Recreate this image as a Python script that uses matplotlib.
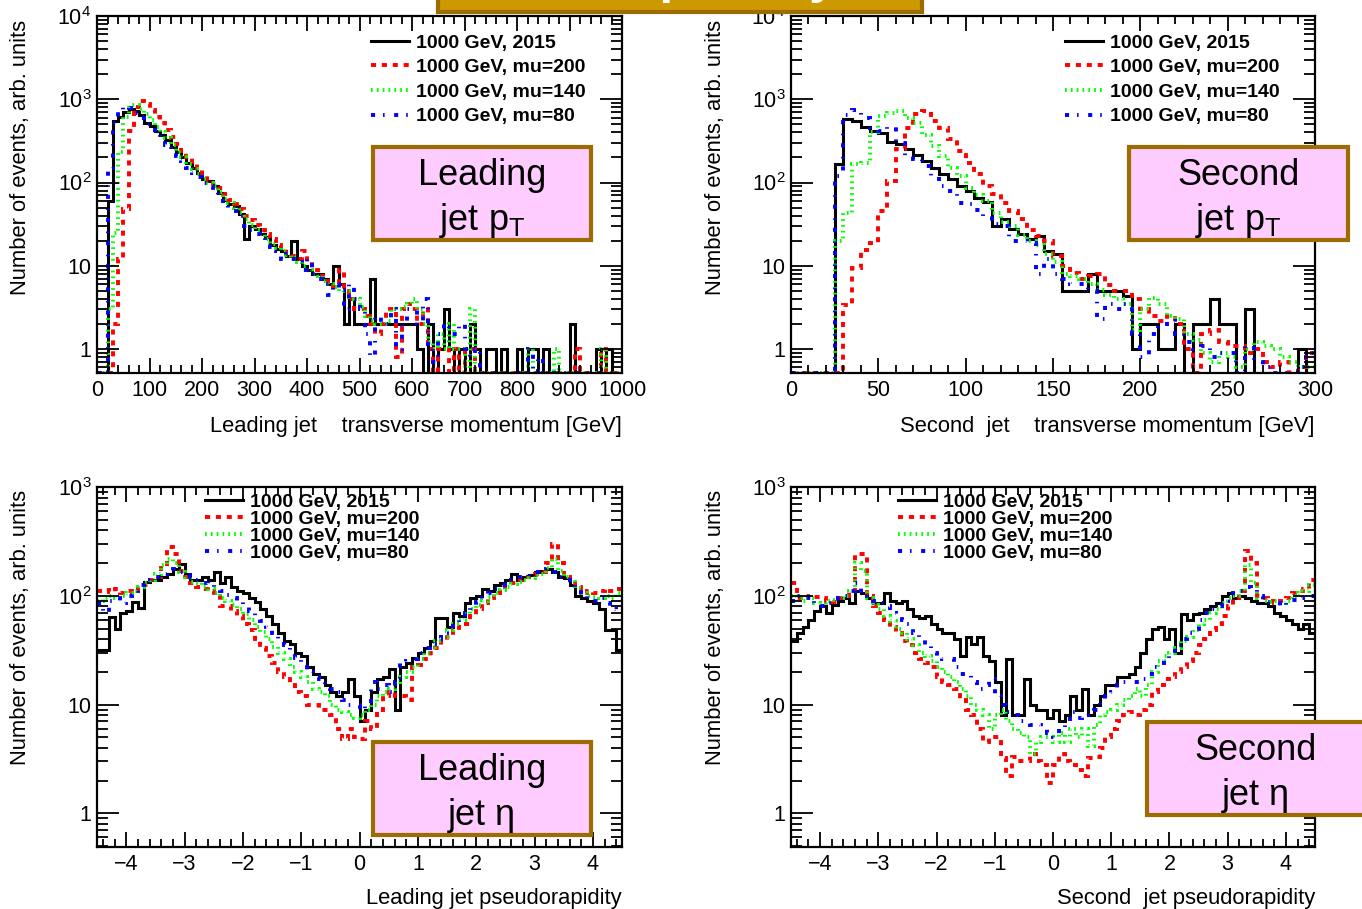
import numpy as np
import matplotlib
matplotlib.use("Agg")
import matplotlib.pyplot as plt
from matplotlib.patches import Rectangle
from matplotlib.lines import Line2D
from matplotlib.ticker import MultipleLocator, LogLocator, NullFormatter

plt.rcParams['font.family'] = ['Liberation Sans', 'DejaVu Sans']
plt.rcParams['mathtext.fontset'] = 'custom'
plt.rcParams['mathtext.rm'] = 'Liberation Sans'
plt.rcParams['mathtext.it'] = 'Liberation Sans:italic'
plt.rcParams['mathtext.bf'] = 'Liberation Sans:bold'

# ---------------- data ----------------
labels = ["1000 GeV, 2015", "1000 GeV, mu=200", "1000 GeV, mu=140", "1000 GeV, mu=80"]

# Leading jet pT, 10 GeV bins from 0 to 1000
pt1_edges = np.linspace(0, 1000, 101)
pt1_2015 = [0, 0, 60, 550, 620, 700, 760, 720, 640, 520,
            480, 420, 370, 320, 270, 230, 200, 170, 150, 130,
            110, 105, 90, 75, 62, 55, 52, 42, 21, 30,
            28, 24, 22, 18, 16, 15, 13, 20, 12, 10,
            9, 8, 8, 7, 6, 10, 6, 2, 4, 2,
            2, 2, 7, 2, 2, 2, 2, 2, 2, 2,
            2, 1, 0, 2, 0, 1, 3, 1, 0, 1,
            0, 2, 1, 0, 1, 1, 0, 1, 0, 0,
            1, 0, 1, 1, 0, 1, 0, 0, 0, 0,
            2, 0, 0, 0, 0, 1, 0, 1, 0, 0]
pt1_mu200 = [0, 0, 0, 2, 12, 48, 420, 800, 950, 880,
             750, 620, 520, 430, 350, 290, 240, 200, 165, 140,
             120, 108, 95, 85, 72, 62, 55, 48, 40, 35,
             31, 27, 24, 21, 18, 16, 14, 13, 12, 15,
             11, 9, 7.5, 6.5, 6, 5.5, 9, 5, 4, 3,
             3, 2.5, 2, 1.5, 2, 3, 3, 0.8, 3, 3.5,
             3, 2, 3, 1, 0, 1, 1, 0, 1, 0,
             1, 1, 0, 0, 0, 0, 0, 0, 0, 0,
             0, 0, 0, 0, 0, 0, 0, 0, 0, 0,
             0, 1, 0, 0, 0, 0, 1, 0, 0, 0]
pt1_mu140 = [0, 0, 3, 25, 230, 620, 850, 860, 760, 660,
             560, 470, 400, 340, 285, 235, 200, 168, 145, 125,
             110, 100, 90, 76, 63, 56, 49, 43, 36, 31,
             27, 24, 21, 18.5, 16.5, 15, 13.5, 12.5, 11, 10,
             9, 8, 7.5, 6.5, 6, 5.5, 5, 5, 4.2, 4,
             3.2, 2.5, 2.2, 2, 2, 2.2, 3, 3, 3.2, 3.5,
             4, 3, 2, 1.2, 1, 1.5, 1, 2, 1, 1,
             0, 3, 0, 0, 0, 0, 0, 0, 0, 0,
             0, 0, 1, 0, 0, 0, 0, 1, 0, 0,
             0, 0, 0, 0, 0, 0, 1, 0, 0, 0]
pt1_mu80 = [0, 0, 150, 520, 700, 820, 780, 680, 600, 500,
            430, 380, 330, 280, 240, 210, 180, 150, 130, 115,
            100, 90, 80, 70, 55, 50, 45, 40, 30, 27,
            24, 22, 19, 17, 15, 12, 14, 12, 11, 9,
            12, 8, 7, 6, 4.5, 6, 5, 3, 6, 4,
            3, 1.5, 0.8, 2.5, 2, 2, 3, 1, 2, 3,
            3, 2, 4, 1, 0.7, 1.5, 2, 1.5, 1.5, 2,
            1, 0.8, 1, 0, 0, 0, 0, 0, 0, 0,
            0, 0, 1, 0, 0.8, 0, 0, 0, 0, 0,
            0, 0, 0, 0, 0, 0, 0, 0, 0, 0]

# Second jet pT, 5 GeV bins from 0 to 300
pt2_edges = np.linspace(0, 300, 61)
pt2_2015 = [0, 0, 0, 0, 0, 165, 580, 550, 470, 420,
            390, 310, 290, 250, 215, 180, 150, 128, 110, 92,
            78, 65, 58, 30, 36, 28, 24, 21, 23, 15,
            14, 5, 5, 5, 8, 5, 5, 5, 4.3, 1,
            2, 2, 1, 1, 2, 0, 2, 2, 4, 2,
            2, 0, 3, 0, 0, 0, 0, 0, 1, 0]
pt2_mu200 = [0, 0, 0, 0, 0, 0, 3.4, 9.4, 15.5, 18.8,
             45, 104, 250, 455, 660, 720, 550, 450, 330, 240,
             172, 125, 92, 72, 57, 46, 36, 27, 22.5, 20,
             13, 9.8, 8.1, 7, 7.5, 8, 5.9, 5, 5, 4,
             3, 2.5, 2.2, 2.5, 2, 1, 0, 1.5, 1.7, 1.2,
             1.1, 1.1, 0.9, 1.0, 0.7, 0.6, 0.7, 0.5, 0.6, 0.9]
pt2_mu140 = [0, 0, 0, 0, 0, 20, 43, 165, 170, 400,
             630, 680, 720, 600, 525, 375, 273, 208, 150, 120,
             86, 70, 60, 43, 34, 30, 23.6, 20, 18, 14,
             11, 8, 7.5, 7, 6, 5.1, 4.5, 4, 3.5, 1.7,
             3, 4.1, 3.5, 2.5, 2.3, 1.5, 1.3, 0.9, 0.7, 0.9,
             0.8, 0.6, 1.0, 1.2, 1.1, 1.0, 0.8, 0.7, 0.6, 0.6]
pt2_mu80 = [0, 0, 0, 0, 0, 120, 650, 750, 600, 450,
            420, 460, 300, 210, 190, 160, 120, 92, 80, 57,
            55, 47, 40, 32, 30, 20, 20, 19, 8, 12,
            8, 7, 6, 6, 5, 2.3, 3.5, 3, 3.5, 1.5,
            0.8, 1.5, 1.8, 2.2, 1.5, 1.2, 1.0, 1.1, 0.8, 0.9,
            0.9, 0.5, 1.1, 0.7, 0.6, 0.5, 0.5, 0.5, 0.6, 0.9]

# Leading jet eta, 0.1 bins from -4.5 to 4.5
eta_edges = np.linspace(-4.5, 4.5, 91)
eta1_2015 = [32, 32, 64, 50, 70, 72, 88, 78, 135, 140,
             140, 150, 160, 175, 195, 160, 140, 140, 150, 140,
             165, 130, 150, 120, 110, 105, 95, 88, 75, 65,
             55, 45, 38, 36, 30, 28, 22, 19, 18, 15,
             13, 12, 13, 17, 12, 7, 9, 13, 17, 18,
             21, 9, 22, 24, 27, 30, 33, 38, 62, 62,
             52, 70, 65, 85, 95, 100, 115, 110, 125, 130,
             140, 160, 140, 150, 155, 165, 170, 175, 165, 150,
             145, 125, 100, 95, 90, 85, 75, 48, 48, 32]
eta1_mu200 = [110, 112, 108, 115, 105, 110, 108, 118, 125, 140,
              150, 180, 280, 240, 170, 150, 130, 120, 115, 110,
              100, 80, 80, 72, 65, 55, 48, 40, 33, 28,
              24, 20, 18, 15, 13, 12, 10, 10, 9, 9,
              8, 6, 4.8, 6, 5, 4.8, 7, 6, 9, 12,
              13, 12, 12, 11, 22, 23, 26, 30, 33, 38,
              42, 48, 55, 55, 65, 75, 85, 95, 105, 115,
              125, 130, 140, 150, 155, 160, 165, 200, 300, 200,
              150, 140, 120, 105, 110, 105, 110, 115, 110, 115]
eta1_mu140 = [90, 95, 100, 95, 100, 105, 110, 120, 130, 140,
              160, 190, 220, 200, 165, 150, 135, 130, 120, 115,
              105, 95, 90, 82, 75, 68, 60, 52, 46, 40,
              34, 30, 26, 22, 20, 18, 16, 14, 13, 12,
              10, 9, 8.5, 8, 7.5, 8, 9, 10, 12, 13,
              14, 16, 18, 20, 22, 26, 30, 34, 38, 42,
              48, 55, 60, 68, 75, 82, 90, 98, 105, 112,
              120, 128, 135, 140, 145, 155, 160, 180, 220, 170,
              150, 135, 118, 105, 100, 98, 95, 100, 95, 105]
eta1_mu80 = [85, 70, 90, 95, 85, 100, 110, 125, 130, 140,
             150, 160, 170, 175, 165, 155, 150, 140, 130, 125,
             118, 110, 102, 95, 88, 80, 72, 65, 58, 52,
             45, 40, 35, 30, 27, 23, 20, 18, 17, 15,
             14, 13, 11, 10, 10, 9, 10, 16, 14, 15,
             13, 16, 24, 25, 26, 30, 33, 36, 40, 45,
             50, 56, 62, 70, 80, 88, 95, 105, 115, 125,
             135, 140, 150, 150, 160, 165, 170, 175, 165, 150,
             140, 130, 115, 100, 95, 90, 95, 85, 75, 72]

# Second jet eta, 0.1 bins from -4.5 to 4.5
eta2_2015 = [38, 45, 52, 60, 72, 80, 70, 82, 90, 95,
             85, 110, 105, 95, 85, 85, 105, 90, 85, 90,
             75, 65, 62, 65, 55, 50, 45, 45, 40, 28,
             42, 36, 42, 28, 25, 16, 8, 26, 8, 8,
             17, 10, 9, 9, 7.5, 9, 7, 8, 12, 9,
             14, 8, 10, 12, 15, 15, 18, 18, 19, 22,
             30, 40, 50, 52, 40, 50, 30, 68, 60, 68,
             70, 75, 80, 85, 100, 105, 95, 100, 95, 90,
             85, 85, 80, 70, 65, 60, 55, 50, 55, 45]
eta2_mu200 = [130, 95, 100, 95, 98, 95, 90, 88, 95, 100,
              110, 240, 240, 100, 80, 70, 60, 52, 45, 38,
              35, 30, 26, 24, 22, 18, 16, 15, 14, 11,
              9, 8, 6, 4.5, 5, 5, 3.2, 2.2, 3.3, 3.0,
              3.0, 3.5, 3.0, 2.8, 1.9, 2.8, 3.5, 3.0, 2.8, 2.5,
              2.2, 3.2, 3.3, 4.0, 5.0, 6.0, 7.0, 8.0, 8.5, 8.0,
              9.0, 10, 13, 15, 17, 18, 20, 22, 25, 30,
              35, 40, 48, 55, 65, 80, 95, 110, 260, 200,
              100, 95, 90, 85, 90, 95, 105, 110, 115, 140]
eta2_mu140 = [100, 95, 90, 95, 85, 80, 90, 92, 95, 100,
              110, 200, 170, 95, 82, 75, 65, 58, 50, 45,
              40, 35, 30, 28, 25, 22, 20, 18, 16, 14,
              12, 10, 9, 8, 6, 8, 9, 7, 6, 5.5,
              5, 3.5, 4.5, 5, 5, 4.5, 5.5, 4.5, 6, 5,
              6, 4.2, 6.5, 8, 8.5, 9, 10, 11, 12, 14,
              12, 15, 20, 25, 28, 30, 33, 38, 42, 48,
              55, 60, 70, 75, 85, 95, 100, 110, 190, 130,
              95, 90, 88, 90, 85, 90, 100, 105, 110, 125]
eta2_mu80 = [90, 100, 95, 98, 85, 80, 85, 90, 95, 100,
             110, 130, 110, 100, 90, 85, 80, 70, 65, 60,
             55, 45, 40, 35, 30, 28, 26, 26, 22, 19,
             19, 16, 14, 15, 17, 12, 10, 8.5, 8, 7,
             7, 6.5, 6.5, 6, 5.5, 5, 6, 7, 8.5, 7.5,
             8, 8.5, 9, 11, 12, 13, 15, 16, 16, 16,
             17, 19, 22, 24, 26, 30, 35, 40, 45, 50,
             60, 70, 75, 80, 90, 100, 105, 110, 120, 115,
             100, 90, 88, 85, 80, 88, 92, 95, 100, 100]

# ---------------- styles ----------------
series_colors = ['#000000', '#ff0000', '#00ff00', '#0000ff']
series_styles = ['-', (0, (1.3, 1.5)), (0, (0.45, 1.05)), (0, (1.05, 2.05, 0.4, 2.45))]
series_lw = [2.2, 2.8, 2.8, 2.8]

W, H = 1362, 909
fig = plt.figure(figsize=(W / 100, H / 100), dpi=100)


def fx(px):
    return px / W


def fy(py):
    return 1 - py / H


def make_axes(l, r, t, b):
    return fig.add_axes([fx(l), fy(b), (r - l) / W, (b - t) / H])


def draw_panel(ax, edges, series, xlim, ylim, xmaj, xmin, yticks, xlabel, leg_anchor,
               leg_spacing, ylab_y, xlab_off):
    ylo = ylim[0]
    for vals, c, ls, lw in zip(series, series_colors, series_styles, series_lw):
        v = np.maximum(np.asarray(vals, dtype=float), ylo * 1.001)
        ax.stairs(v, edges, baseline=None, color=c, linestyle=ls, linewidth=lw)
    ax.set_yscale('log')
    ax.set_xlim(*xlim)
    ax.set_ylim(*ylim)
    ax.xaxis.set_major_locator(MultipleLocator(xmaj))
    ax.xaxis.set_minor_locator(MultipleLocator(xmin))
    ytl = []
    for t in yticks:
        if t == 1:
            ytl.append('1')
        elif t == 10:
            ytl.append('10')
        else:
            ytl.append(r'$\mathregular{10^{%d}}$' % int(round(np.log10(t))))
    ax.set_yticks(yticks, labels=ytl)
    ax.yaxis.set_minor_locator(LogLocator(base=10, subs=np.arange(2, 10)))
    ax.yaxis.set_minor_formatter(NullFormatter())
    ax.tick_params(axis='both', which='both', direction='in', top=True, right=True,
                   labelsize=15.5, width=1.3, colors='black')
    ax.tick_params(axis='y', which='major', length=16, pad=4)
    ax.tick_params(axis='y', which='minor', length=8)
    ax.tick_params(axis='x', which='major', length=11, pad=5)
    ax.tick_params(axis='x', which='minor', length=5.5)
    for s in ax.spines.values():
        s.set_linewidth(1.6)
    ax.set_xlabel(xlabel, loc='right', fontsize=15.8)
    ax.xaxis.set_label_coords(1.0, -xlab_off / (ax.get_position().height * H))
    ax.set_ylabel("Number of events, arb. units", fontsize=15.8)
    lab = ax.yaxis.label
    lab.set_rotation_mode('default')
    lab.set_ha('center')
    lab.set_va('top')
    ax.yaxis.set_label_coords(-76 / (ax.get_position().width * W), ylab_y)
    handles = [Line2D([], [], color=c, linestyle=ls, linewidth=lw)
               for c, ls, lw in zip(series_colors, series_styles, series_lw)]
    ax.legend(handles, labels, loc='upper left', bbox_to_anchor=leg_anchor, frameon=False,
              prop=dict(family='Liberation Sans', weight='bold', size=14),
              handlelength=1.95, handletextpad=0.36, labelspacing=leg_spacing,
              borderpad=0, borderaxespad=0)


ax1 = make_axes(97, 622, 16, 373)
draw_panel(ax1, pt1_edges, [pt1_2015, pt1_mu200, pt1_mu140, pt1_mu80], (0, 1000), (0.515, 1e4),
           100, 20, [1, 10, 100, 1000, 10000], "Leading jet    transverse momentum [GeV]",
           ((371 - 97) / 525, (373 - 34) / 357), 0.36, 0.989, 43)

ax2 = make_axes(791, 1315, 16, 373)
draw_panel(ax2, pt2_edges, [pt2_2015, pt2_mu200, pt2_mu140, pt2_mu80], (0, 300), (0.515, 1e4),
           50, 10, [1, 10, 100, 1000, 10000], "Second  jet    transverse momentum [GeV]",
           ((1065 - 791) / 524, (373 - 34) / 357), 0.36, 0.989, 43)

ax3 = make_axes(97, 622, 487, 847)
draw_panel(ax3, eta_edges, [eta1_2015, eta1_mu200, eta1_mu140, eta1_mu80], (-4.5, 4.5), (0.49, 1000),
           1, 0.2, [1, 10, 100, 1000], "Leading jet pseudorapidity",
           ((205 - 97) / 525, (847 - 493) / 360), -0.02, 0.992, 41)

ax4 = make_axes(791, 1315, 487, 847)
draw_panel(ax4, eta_edges, [eta2_2015, eta2_mu200, eta2_mu140, eta2_mu80], (-4.5, 4.5), (0.49, 1000),
           1, 0.2, [1, 10, 100, 1000], "Second  jet pseudorapidity",
           ((898 - 791) / 524, (847 - 493) / 360), -0.02, 0.992, 41)


# ---------------- slide overlays ----------------
def slide_box(l, t, r, b, line1, line2):
    rect = Rectangle((fx(l + 2), fy(b - 2)), (r - l - 4) / W, (b - t - 4) / H,
                     transform=fig.transFigure, facecolor='#ffccff', edgecolor='#9c6c00',
                     linewidth=3, zorder=10)
    fig.add_artist(rect)
    cx = (l + r) / 2
    fig.text(fx(cx), fy(t + 40), line1, ha='center', va='baseline', fontsize=26, zorder=11)
    fig.text(fx(cx), fy(t + 85), line2, ha='center', va='baseline', fontsize=26, zorder=11)


slide_box(371, 145, 593, 242, "Leading", r"jet p$_{\mathregular{T}}$")
slide_box(1127, 145, 1350, 242, "Second", r"jet p$_{\mathregular{T}}$")
slide_box(371, 740, 593, 837, "Leading", "jet η")
slide_box(1145, 720, 1367, 817, "Second", "jet η")

title_rect = Rectangle((fx(438), fy(12)), (922 - 438) / W, 30 / H, transform=fig.transFigure,
                       facecolor='#cc9900', edgecolor='#9c6c00', linewidth=3, zorder=10)
fig.add_artist(title_rect)
fig.text(fx(680), fy(-7), "Pile-up study", ha='center', va='baseline', fontsize=36,
         fontweight='bold', color='white', zorder=11)

fig.savefig("out.png", dpi=100)
